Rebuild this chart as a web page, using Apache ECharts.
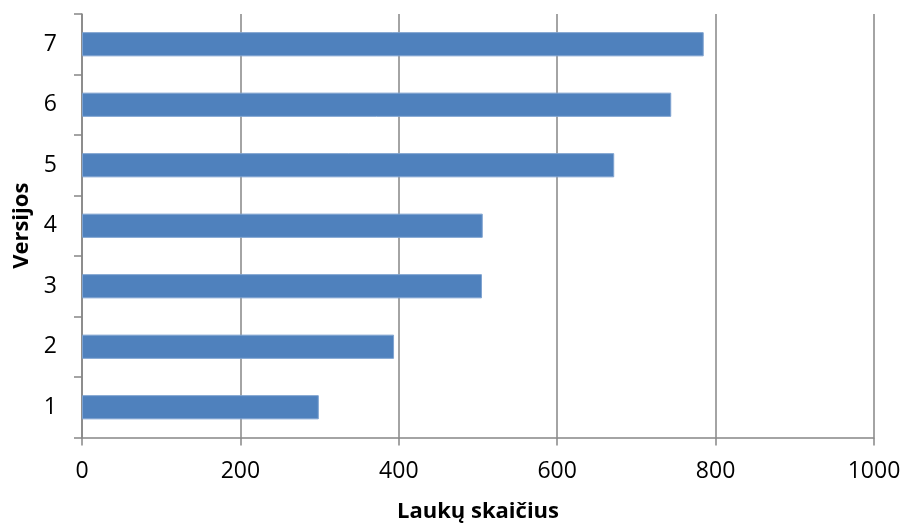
<!DOCTYPE html>
<html>
<head>
<meta charset="utf-8">
<script src="https://cdn.jsdelivr.net/npm/echarts@6/dist/echarts.min.js"></script>
<style>
  html, body { margin: 0; padding: 0; background: #fff; }
  #chart { width: 903px; height: 523px; }
</style>
</head>
<body>
<div id="chart"></div>
<script>
// Versions on the category axis, field counts per version
const versions = ['1', '2', '3', '4', '5', '6', '7'];
const fieldCounts = [299, 394, 505, 506, 672, 744, 785];
const xTicks = [0, 200, 400, 600, 800, 1000];

const axisGray = '#868686';
const font = '"Open Sans", Lato, sans-serif';

const chart = echarts.init(document.getElementById('chart'), null, { renderer: 'canvas' });
chart.setOption({
  animation: false,
  backgroundColor: '#ffffff',
  grid: {
    left: 82, right: 29, top: 14, bottom: 85.5,
    containLabel: false,
    outerBoundsMode: 'none'
  },
  xAxis: {
    type: 'value',
    min: xTicks[0],
    max: xTicks[xTicks.length - 1],
    interval: xTicks[1] - xTicks[0],
    name: 'Laukų skaičius',
    nameLocation: 'middle',
    nameGap: 63,
    nameTextStyle: { fontFamily: font, fontWeight: 'bold', fontSize: 22, color: '#000' },
    axisLine: { show: true, lineStyle: { color: axisGray, width: 1.5 } },
    axisTick: { show: true, length: 8, lineStyle: { color: axisGray, width: 1.5 } },
    axisLabel: {
      fontFamily: font, fontSize: 23, color: '#000', margin: 22,
      formatter: v => String(v)
    },
    splitLine: { show: true, lineStyle: { color: axisGray, width: 1.5 } }
  },
  yAxis: {
    type: 'category',
    data: versions,
    name: 'Versijos',
    nameLocation: 'middle',
    nameGap: 48,
    nameTextStyle: { fontFamily: font, fontWeight: 'bold', fontSize: 22, color: '#000' },
    axisLine: { show: true, lineStyle: { color: axisGray, width: 1.5 } },
    axisTick: { show: true, length: 8, alignWithLabel: false, lineStyle: { color: axisGray, width: 1.5 } },
    axisLabel: { fontFamily: font, fontSize: 23, color: '#000', margin: 25 },
    splitLine: { show: false }
  },
  series: [{
    type: 'bar',
    data: fieldCounts,
    barCategoryGap: '60%',
    itemStyle: { color: '#4F81BD', borderColor: '#7FA3D0', borderWidth: 1 }
  }]
});
</script>
</body>
</html>
